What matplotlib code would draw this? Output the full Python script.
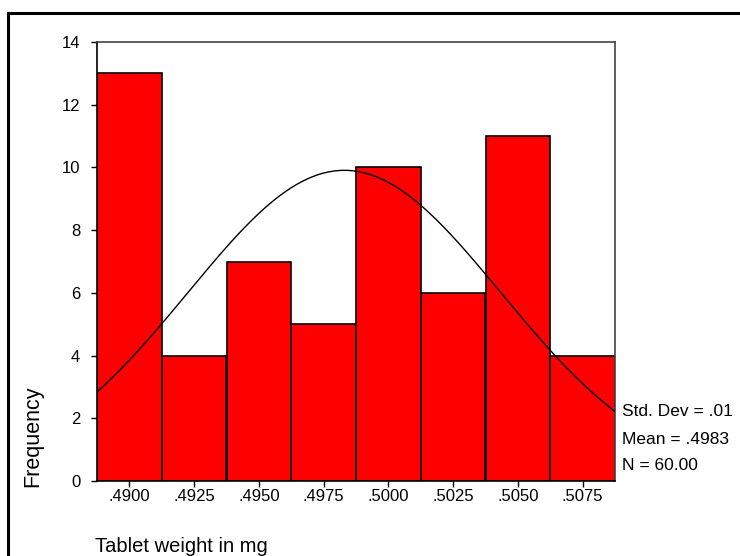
import numpy as np
import matplotlib
matplotlib.use("Agg")
import matplotlib.pyplot as plt
from matplotlib.patches import Rectangle

plt.rcParams['font.family'] = ['Liberation Sans', 'DejaVu Sans']

bin_centers = [0.4900, 0.4925, 0.4950, 0.4975, 0.5000, 0.5025, 0.5050, 0.5075]
tick_labels = ['.4900', '.4925', '.4950', '.4975', '.5000', '.5025', '.5050', '.5075']
frequencies = [13, 4, 7, 5, 10, 6, 11, 4]
bin_width = 0.0025
mean_val = 0.4983
sd_val = 0.00604
n_val = 60
stats_lines = ['Std. Dev = .01', 'Mean = .4983', 'N = 60.00']

fig = plt.figure(figsize=(7.4, 5.56), dpi=100)
W, H = 740, 556
ax = fig.add_axes([97 / W, 1 - 481 / H, (615 - 97) / W, (481 - 42) / H])

ax.bar(bin_centers, frequencies, width=bin_width, color='#ff0000',
       edgecolor='black', linewidth=1.2, zorder=2)

lo = bin_centers[0] - bin_width / 2
hi = bin_centers[-1] + bin_width / 2
xs = np.linspace(lo, hi, 300)
ys = n_val * bin_width / (sd_val * np.sqrt(2 * np.pi)) * np.exp(-0.5 * ((xs - mean_val) / sd_val) ** 2)
ax.plot(xs, ys, color='black', linewidth=1.0, zorder=3)

ax.set_xlim(lo, hi)
ax.set_ylim(0, 14)
ax.set_xticks(bin_centers)
ax.set_xticklabels(tick_labels, fontsize=12)
ax.set_yticks(range(0, 15, 2))
ax.set_yticklabels([str(v) for v in range(0, 15, 2)], fontsize=12)
ax.tick_params(axis='both', direction='out', length=4, width=1, pad=2)
ax.tick_params(axis='y', pad=8)
for s in ['left', 'bottom']:
    ax.spines[s].set_color('black')
    ax.spines[s].set_linewidth(1.2)
for s in ['top', 'right']:
    ax.spines[s].set_color('#444444')
    ax.spines[s].set_linewidth(1.2)

fig.text(33 / W, 1 - 436 / H, 'Frequency', rotation=90, fontsize=15.5,
         ha='center', va='center')
fig.text(95 / W, 1 - 547 / H, 'Tablet weight in mg', fontsize=14.5,
         ha='left', va='center')
for i, line in enumerate(stats_lines):
    fig.text(622 / W, 1 - (412 + 27 * i) / H, line, fontsize=12.5,
             ha='left', va='center')

frame = Rectangle((8 / W, -0.05), 1.2, 1 - 13 / H + 0.05, transform=fig.transFigure,
                  fill=False, edgecolor='black', linewidth=2.2, clip_on=False)
fig.patches.append(frame)

fig.savefig('out.png', dpi=100, facecolor='white')
